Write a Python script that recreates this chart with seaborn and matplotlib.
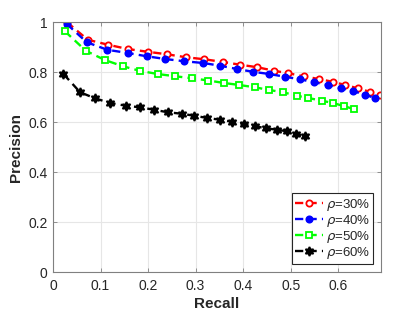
import numpy as np
import pandas as pd
import matplotlib
matplotlib.use("Agg")
import matplotlib.pyplot as plt
import seaborn as sns

# =========================================
# Data
# =========================================
recall_30 = [0.029, 0.073, 0.116, 0.157, 0.199, 0.239, 0.280, 0.318, 0.358, 0.394,
             0.430, 0.465, 0.495, 0.527, 0.559, 0.588, 0.615, 0.641, 0.666, 0.687]
prec_30 = [1.000, 0.929, 0.909, 0.892, 0.881, 0.871, 0.859, 0.851, 0.840, 0.829,
           0.819, 0.805, 0.795, 0.783, 0.772, 0.761, 0.748, 0.735, 0.721, 0.708]

recall_40 = [0.029, 0.071, 0.114, 0.157, 0.197, 0.236, 0.276, 0.316, 0.352, 0.387,
             0.420, 0.455, 0.488, 0.519, 0.549, 0.578, 0.606, 0.632, 0.657, 0.678]
prec_40 = [0.992, 0.919, 0.889, 0.876, 0.863, 0.852, 0.843, 0.836, 0.825, 0.812,
           0.801, 0.792, 0.781, 0.771, 0.759, 0.748, 0.735, 0.723, 0.709, 0.695]

recall_50 = [0.025, 0.069, 0.109, 0.147, 0.182, 0.220, 0.257, 0.292, 0.327, 0.360,
             0.392, 0.424, 0.455, 0.484, 0.513, 0.537, 0.566, 0.589, 0.613, 0.634]
prec_50 = [0.963, 0.885, 0.848, 0.823, 0.805, 0.792, 0.783, 0.775, 0.766, 0.756,
           0.748, 0.739, 0.728, 0.719, 0.705, 0.696, 0.685, 0.676, 0.663, 0.651]

recall_60 = [0.022, 0.057, 0.088, 0.120, 0.154, 0.182, 0.213, 0.241, 0.271, 0.297,
             0.325, 0.352, 0.377, 0.401, 0.425, 0.448, 0.471, 0.492, 0.512, 0.531]
prec_60 = [0.792, 0.719, 0.695, 0.676, 0.665, 0.659, 0.649, 0.639, 0.633, 0.625,
           0.616, 0.609, 0.601, 0.592, 0.583, 0.575, 0.569, 0.563, 0.552, 0.543]

labels = [r"$\rho$=30%", r"$\rho$=40%", r"$\rho$=50%", r"$\rho$=60%"]
x_ticks = [0, 0.1, 0.2, 0.3, 0.4, 0.5, 0.6]
x_tick_labels = ["0", "0.1", "0.2", "0.3", "0.4", "0.5", "0.6"]
y_ticks = [0, 0.2, 0.4, 0.6, 0.8, 1.0]
y_tick_labels = ["0", "0.2", "0.4", "0.6", "0.8", "1"]

# (recall, precision, label, colour, marker, face colour, marker size)
series = [
    (recall_30, prec_30, labels[0], "#ff0000", "o", "white", 4.5),
    (recall_40, prec_40, labels[1], "#0000ff", "o", "#0000ff", 4.5),
    (recall_50, prec_50, labels[2], "#00ff00", "s", "white", 3.8),
    (recall_60, prec_60, labels[3], "#000000", (6, 1, 0), "#000000", 6.5),
]

# =========================================
# Plot
# =========================================
sns.set_style("ticks")
plt.rcParams["font.family"] = ["Liberation Sans", "DejaVu Sans"]
plt.rcParams["mathtext.fontset"] = "dejavusans"

fig = plt.figure(figsize=(4.2, 3.15), dpi=100)
ax = fig.add_axes([53 / 420, 1 - 272 / 315, (381 - 53) / 420, (272 - 22) / 315])

for rec, prec, lab, col, mk, fc, ms in series:
    df = pd.DataFrame({"Recall": rec, "Precision": prec})
    sns.lineplot(data=df, x="Recall", y="Precision", ax=ax, color=col,
                 linestyle=(0, (3.5, 2.2)), linewidth=1.7, marker=mk,
                 markersize=ms, markerfacecolor=fc, markeredgecolor=col,
                 markeredgewidth=1.3, label=lab, estimator=None, sort=False)

ax.set_xlim(0, 0.69)
ax.set_ylim(0, 1)
ax.set_xticks(x_ticks)
ax.set_xticklabels(x_tick_labels)
ax.set_yticks(y_ticks)
ax.set_yticklabels(y_tick_labels)
ax.grid(True, color="#e6e6e6", linewidth=0.8)
ax.set_axisbelow(True)
for sp in ax.spines.values():
    sp.set_color("#808080")
    sp.set_linewidth(0.8)
ax.tick_params(direction="in", length=3, width=0.6, color="#808080",
               labelsize=10, labelcolor="#262626", top=True, right=True)
ax.tick_params(axis="x", pad=5)
ax.tick_params(axis="y", pad=4)
ax.set_xlabel("Recall", fontsize=11, fontweight="bold", color="#262626", labelpad=3)
ax.set_ylabel("Precision", fontsize=11, fontweight="bold", color="#262626", labelpad=4)

leg = ax.legend(loc="lower right", fontsize=9.5, frameon=True, fancybox=False,
                handlelength=2.1, handletextpad=0.2, borderpad=0.25,
                labelspacing=0.0, borderaxespad=0.6)
leg.get_frame().set_edgecolor("#262626")
leg.get_frame().set_linewidth(0.8)
leg.get_frame().set_alpha(1)

fig.savefig("out.png", dpi=100)
